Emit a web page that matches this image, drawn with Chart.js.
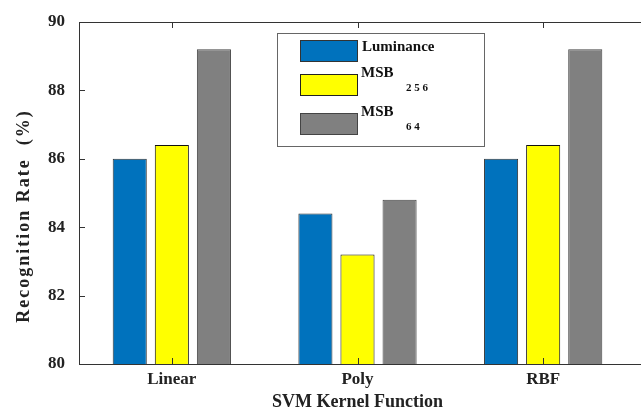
<!DOCTYPE html>
<html>
<head>
<meta charset="utf-8">
<script src="https://cdn.jsdelivr.net/npm/chart.js@4.4.0/dist/chart.umd.min.js"></script>
<style>
  html, body { margin: 0; padding: 0; background: #fff; overflow: hidden; }
  #wrap { width: 641px; height: 413px; position: relative; }
</style>
</head>
<body>
<div id="wrap"><canvas id="kernelChart"></canvas></div>
<script>
// --- Datos del gráfico ---
const categories = ['Linear', 'Poly', 'RBF'];
const luminance = [86.0, 84.4, 86.0];
const msb256 = [86.4, 83.2, 86.4];
const msb64 = [89.2, 84.8, 89.2];
const yTicks = [80, 82, 84, 86, 88, 90];
const yTitle = 'Recognition Rate  (%)';

const FONT = '"Liberation Serif", "Times New Roman", serif';

// Ticks hacia adentro, borde superior, título Y y leyenda tipo MATLAB
const matlabFrame = {
    id: 'matlabFrame',
    afterDraw(chart) {
        const { ctx, chartArea: a, scales: { x, y } } = chart;
        ctx.save();
        ctx.strokeStyle = '#333';
        ctx.lineWidth = 1;
        ctx.beginPath();
        ctx.moveTo(a.left, a.top + 0.5);
        ctx.lineTo(chart.width, a.top + 0.5);
        ctx.moveTo(a.right, a.bottom + 0.5);
        ctx.lineTo(chart.width, a.bottom + 0.5);
        y.ticks.forEach(t => {
            const py = Math.round(y.getPixelForValue(t.value)) + 0.5;
            ctx.moveTo(a.left, py);
            ctx.lineTo(a.left + 6, py);
        });
        categories.forEach((c, i) => {
            const px = Math.round(x.getPixelForValue(i)) + 0.5;
            ctx.moveTo(px, a.bottom);
            ctx.lineTo(px, a.bottom - 6);
            ctx.moveTo(px, a.top);
            ctx.lineTo(px, a.top + 6);
        });
        ctx.stroke();

        // Título del eje Y (con espaciado como en la figura original)
        ctx.save();
        ctx.translate(24, 216);
        ctx.rotate(-Math.PI / 2);
        ctx.font = 'bold 18px ' + FONT;
        ctx.letterSpacing = '2px';
        ctx.fillStyle = '#222';
        ctx.textAlign = 'center';
        ctx.textBaseline = 'middle';
        ctx.fillText(yTitle, 0, 0);
        ctx.restore();

        // Leyenda
        ctx.fillStyle = '#fff';
        ctx.fillRect(277, 33, 207, 113);
        ctx.strokeStyle = '#666';
        ctx.strokeRect(277.5, 33.5, 207, 113);
        const items = [
            { fill: '#0072BD', border: '#333', y: 40, label: 'Luminance', sub: '' },
            { fill: '#FFFF00', border: '#222', y: 74, label: 'MSB', sub: '2 5 6' },
            { fill: '#808080', border: '#444', y: 113, label: 'MSB', sub: '6 4' }
        ];
        ctx.textBaseline = 'middle';
        ctx.textAlign = 'left';
        items.forEach(it => {
            ctx.fillStyle = it.fill;
            ctx.fillRect(300, it.y, 57, 21);
            ctx.strokeStyle = it.border;
            ctx.strokeRect(300.5, it.y + 0.5, 57, 21);
            ctx.fillStyle = '#111';
            ctx.font = 'bold 15px ' + FONT;
            if (it.sub) {
                ctx.fillText(it.label, 361, it.y - 1);
                ctx.font = 'bold 11px ' + FONT;
                ctx.fillText(it.sub, 406, it.y + 14);
            } else {
                ctx.fillText(it.label, 362, it.y + 7);
            }
        });
        ctx.restore();
    }
};

new Chart(document.getElementById('kernelChart'), {
    type: 'bar',
    data: {
        labels: categories,
        datasets: [
            { label: 'Luminance', data: luminance, backgroundColor: '#0072BD', borderColor: '#333', borderWidth: 1 },
            { label: 'MSB256', data: msb256, backgroundColor: '#FFFF00', borderColor: '#111', borderWidth: 1 },
            { label: 'MSB64', data: msb64, backgroundColor: '#808080', borderColor: '#444', borderWidth: 1 }
        ]
    },
    options: {
        responsive: true,
        maintainAspectRatio: false,
        animation: false,
        layout: { padding: { top: 22, right: 5, left: 0, bottom: 0 } },
        datasets: { bar: { categoryPercentage: 0.68, barPercentage: 0.81 } },
        scales: {
            x: {
                grid: { display: false, drawTicks: false },
                border: { display: true, color: '#333', width: 1 },
                ticks: { color: '#222', padding: 5, font: { family: FONT, size: 17, weight: 'bold' } },
                title: {
                    display: true, text: 'SVM Kernel Function', color: '#222',
                    padding: { top: 0, bottom: 0 },
                    font: { family: FONT, size: 18, weight: 'bold' }
                },
                afterFit(scale) { scale.height = 49; scale.paddingLeft = 0; scale.paddingRight = 0; }
            },
            y: {
                min: 80,
                max: 90,
                afterBuildTicks(scale) { scale.ticks = yTicks.map(v => ({ value: v })); },
                grid: { display: false, drawTicks: false },
                border: { display: true, color: '#333', width: 1 },
                ticks: { color: '#222', padding: 14, font: { family: FONT, size: 17, weight: 'bold' } },
                title: { display: false },
                afterFit(scale) { scale.width = 79; scale.paddingTop = 0; scale.paddingBottom = 0; }
            }
        },
        plugins: {
            legend: { display: false },
            tooltip: { enabled: false }
        }
    },
    plugins: [matlabFrame]
});
</script>
</body>
</html>
